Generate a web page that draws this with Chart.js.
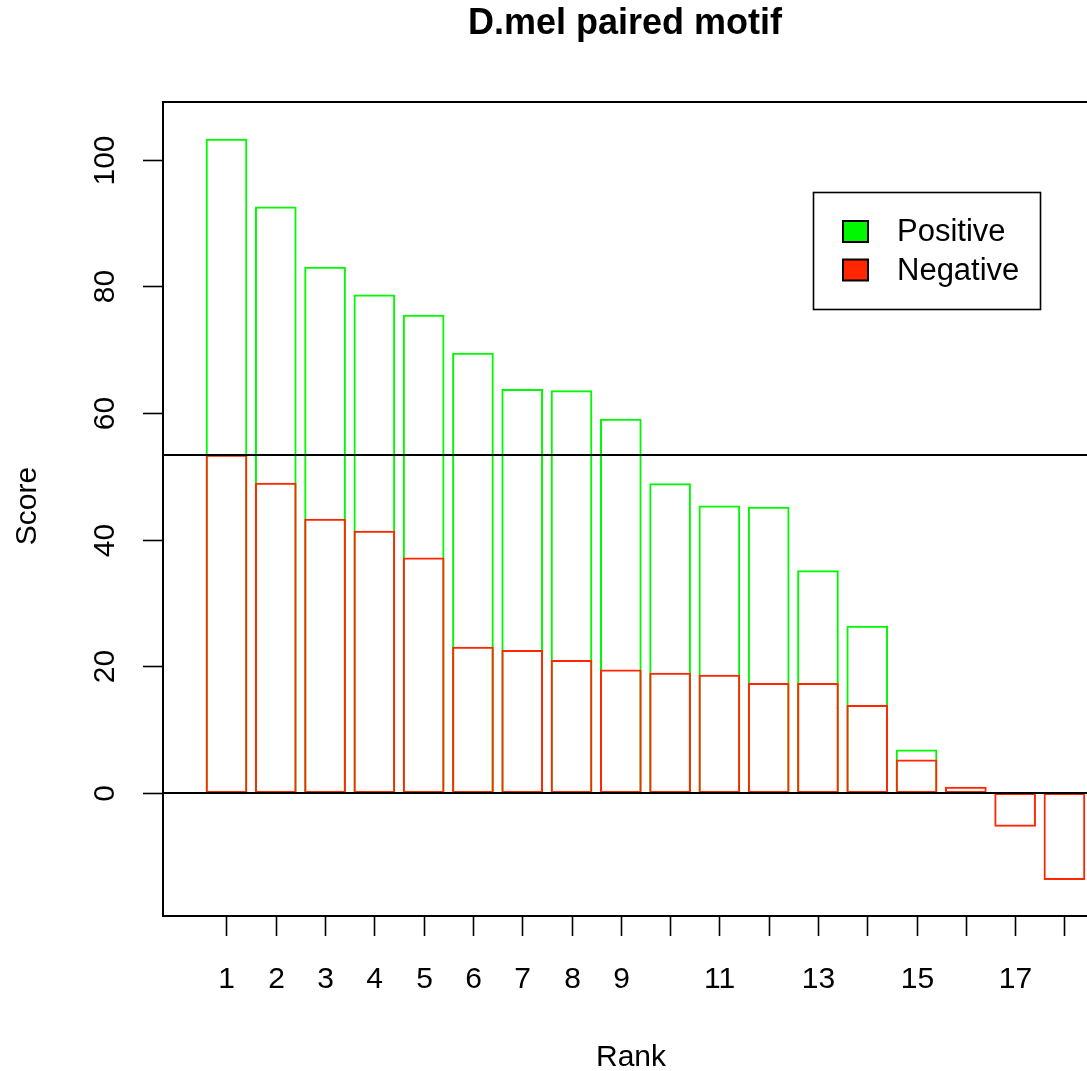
<!DOCTYPE html>
<html>
<head>
<meta charset="utf-8">
<script src="https://cdn.jsdelivr.net/npm/chart.js@4.4.1/dist/chart.umd.min.js"></script>
<style>
  html, body { margin: 0; padding: 0; background: #ffffff; }
  #wrap { width: 1087px; height: 1071px; }
</style>
</head>
<body>
<div id="wrap"><canvas id="c" width="1087" height="1071"></canvas></div>
<script>
// ---- data ----
const ranks = [1, 2, 3, 4, 5, 6, 7, 8, 9, 10, 11, 12, 13, 14, 15, 16, 17, 18];
const positiveScores = [103.3, 92.6, 83.1, 78.7, 75.5, 69.5, 63.8, 63.6, 59.1, 48.9, 45.4, 45.2, 35.2, 26.4, 6.9, null, null, null];
const negativeScores = [53.4, 49.0, 43.3, 41.4, 37.2, 23.1, 22.6, 21.0, 19.5, 19.0, 18.7, 17.4, 17.4, 13.9, 5.3, 1.0, -5.3, -13.7];
const thresholdScore = 53.4;
const xTickLabels = ['1', '2', '3', '4', '5', '6', '7', '8', '9', '', '11', '', '13', '', '15', '', '17', ''];
const yTickValues = [0, 20, 40, 60, 80, 100];
const seriesNames = ['Positive', 'Negative'];
const chartTitle = 'D.mel paired motif';
const xAxisTitle = 'Rank';
const yAxisTitle = 'Score';

// ---- styles ----
const GREEN = '#00f900';
const RED = '#ff2600';
const FONT = '"Liberation Sans", Arial, Helvetica, sans-serif';

const decorPlugin = {
  id: 'decor',
  afterDraw(chart) {
    const ctx = chart.ctx;
    const a = chart.chartArea;
    const xs = chart.scales.x, ys = chart.scales.y;
    ctx.save();
    ctx.strokeStyle = '#000';
    ctx.fillStyle = '#000';

    // reference lines
    ctx.lineWidth = 2;
    [thresholdScore, 0].forEach(v => {
      const py = Math.round(ys.getPixelForValue(v));
      ctx.beginPath();
      ctx.moveTo(a.left, py);
      ctx.lineTo(a.right + 20, py);
      ctx.stroke();
    });

    // box (right side lies beyond the canvas)
    ctx.lineWidth = 2;
    ctx.beginPath();
    ctx.moveTo(a.right + 20, a.top);
    ctx.lineTo(a.left, a.top);
    ctx.lineTo(a.left, a.bottom);
    ctx.lineTo(a.right + 20, a.bottom);
    ctx.stroke();

    // x ticks
    ctx.lineWidth = 1.6;
    ctx.font = '30px ' + FONT;
    ctx.textAlign = 'center';
    ctx.textBaseline = 'alphabetic';
    ranks.forEach((r, i) => {
      const px = Math.round(xs.getPixelForValue(r)) + 0.5;
      ctx.beginPath();
      ctx.moveTo(px, a.bottom);
      ctx.lineTo(px, a.bottom + 20);
      ctx.stroke();
      if (xTickLabels[i]) ctx.fillText(xTickLabels[i], px, 988);
    });

    // y ticks
    yTickValues.forEach(v => {
      const py = Math.round(ys.getPixelForValue(v)) + 0.5;
      ctx.beginPath();
      ctx.moveTo(a.left - 20, py);
      ctx.lineTo(a.left, py);
      ctx.stroke();
      ctx.save();
      ctx.translate(114, py);
      ctx.rotate(-Math.PI / 2);
      ctx.textAlign = 'center';
      ctx.fillText(String(v), 0, 0);
      ctx.restore();
    });

    // axis titles
    ctx.font = '30px ' + FONT;
    ctx.textAlign = 'center';
    ctx.fillText(xAxisTitle, 631, 1066);
    ctx.save();
    ctx.translate(36, 506);
    ctx.rotate(-Math.PI / 2);
    ctx.fillText(yAxisTitle, 0, 0);
    ctx.restore();

    // main title
    ctx.font = 'bold 36px ' + FONT;
    ctx.fillText(chartTitle, 625, 34);

    // legend
    ctx.lineWidth = 1.6;
    ctx.strokeStyle = '#000';
    ctx.strokeRect(813.5, 192.5, 227, 117);
    const cols = [GREEN, RED];
    const rowY = [231.5, 270];
    ctx.font = '31px ' + FONT;
    ctx.textAlign = 'left';
    ctx.textBaseline = 'middle';
    seriesNames.forEach((name, i) => {
      ctx.fillStyle = cols[i];
      ctx.fillRect(843, rowY[i] - 10.5, 25, 21);
      ctx.lineWidth = 2;
      ctx.strokeStyle = '#000';
      ctx.strokeRect(843, rowY[i] - 10.5, 25, 21);
      ctx.fillStyle = '#000';
      ctx.fillText(name, 897, rowY[i] + 1);
    });
    ctx.restore();
  }
};

const toPoints = vals => ranks.map((r, i) => ({ x: r, y: vals[i] }));

new Chart(document.getElementById('c'), {
  type: 'bar',
  data: {
    datasets: [
      {
        label: seriesNames[0],
        data: toPoints(positiveScores),
        backgroundColor: 'rgba(0,0,0,0)',
        borderColor: GREEN,
        borderWidth: 2,
        borderSkipped: false,
        order: 1
      },
      {
        label: seriesNames[1],
        data: toPoints(negativeScores),
        backgroundColor: 'rgba(0,0,0,0)',
        borderColor: RED,
        borderWidth: 2,
        borderSkipped: false,
        order: 0
      }
    ]
  },
  options: {
    responsive: false,
    devicePixelRatio: 1,
    animation: false,
    grouped: false,
    barPercentage: 0.845,
    categoryPercentage: 1,
    layout: { padding: { left: 163, top: 102, right: 0, bottom: 155 } },
    plugins: { legend: { display: false }, title: { display: false }, tooltip: { enabled: false } },
    scales: {
      x: { type: 'linear', display: false, offset: false, min: -0.288, max: 18.458 },
      y: { type: 'linear', display: false, min: -19.4, max: 109.1 }
    }
  },
  plugins: [decorPlugin]
});
</script>
</body>
</html>
